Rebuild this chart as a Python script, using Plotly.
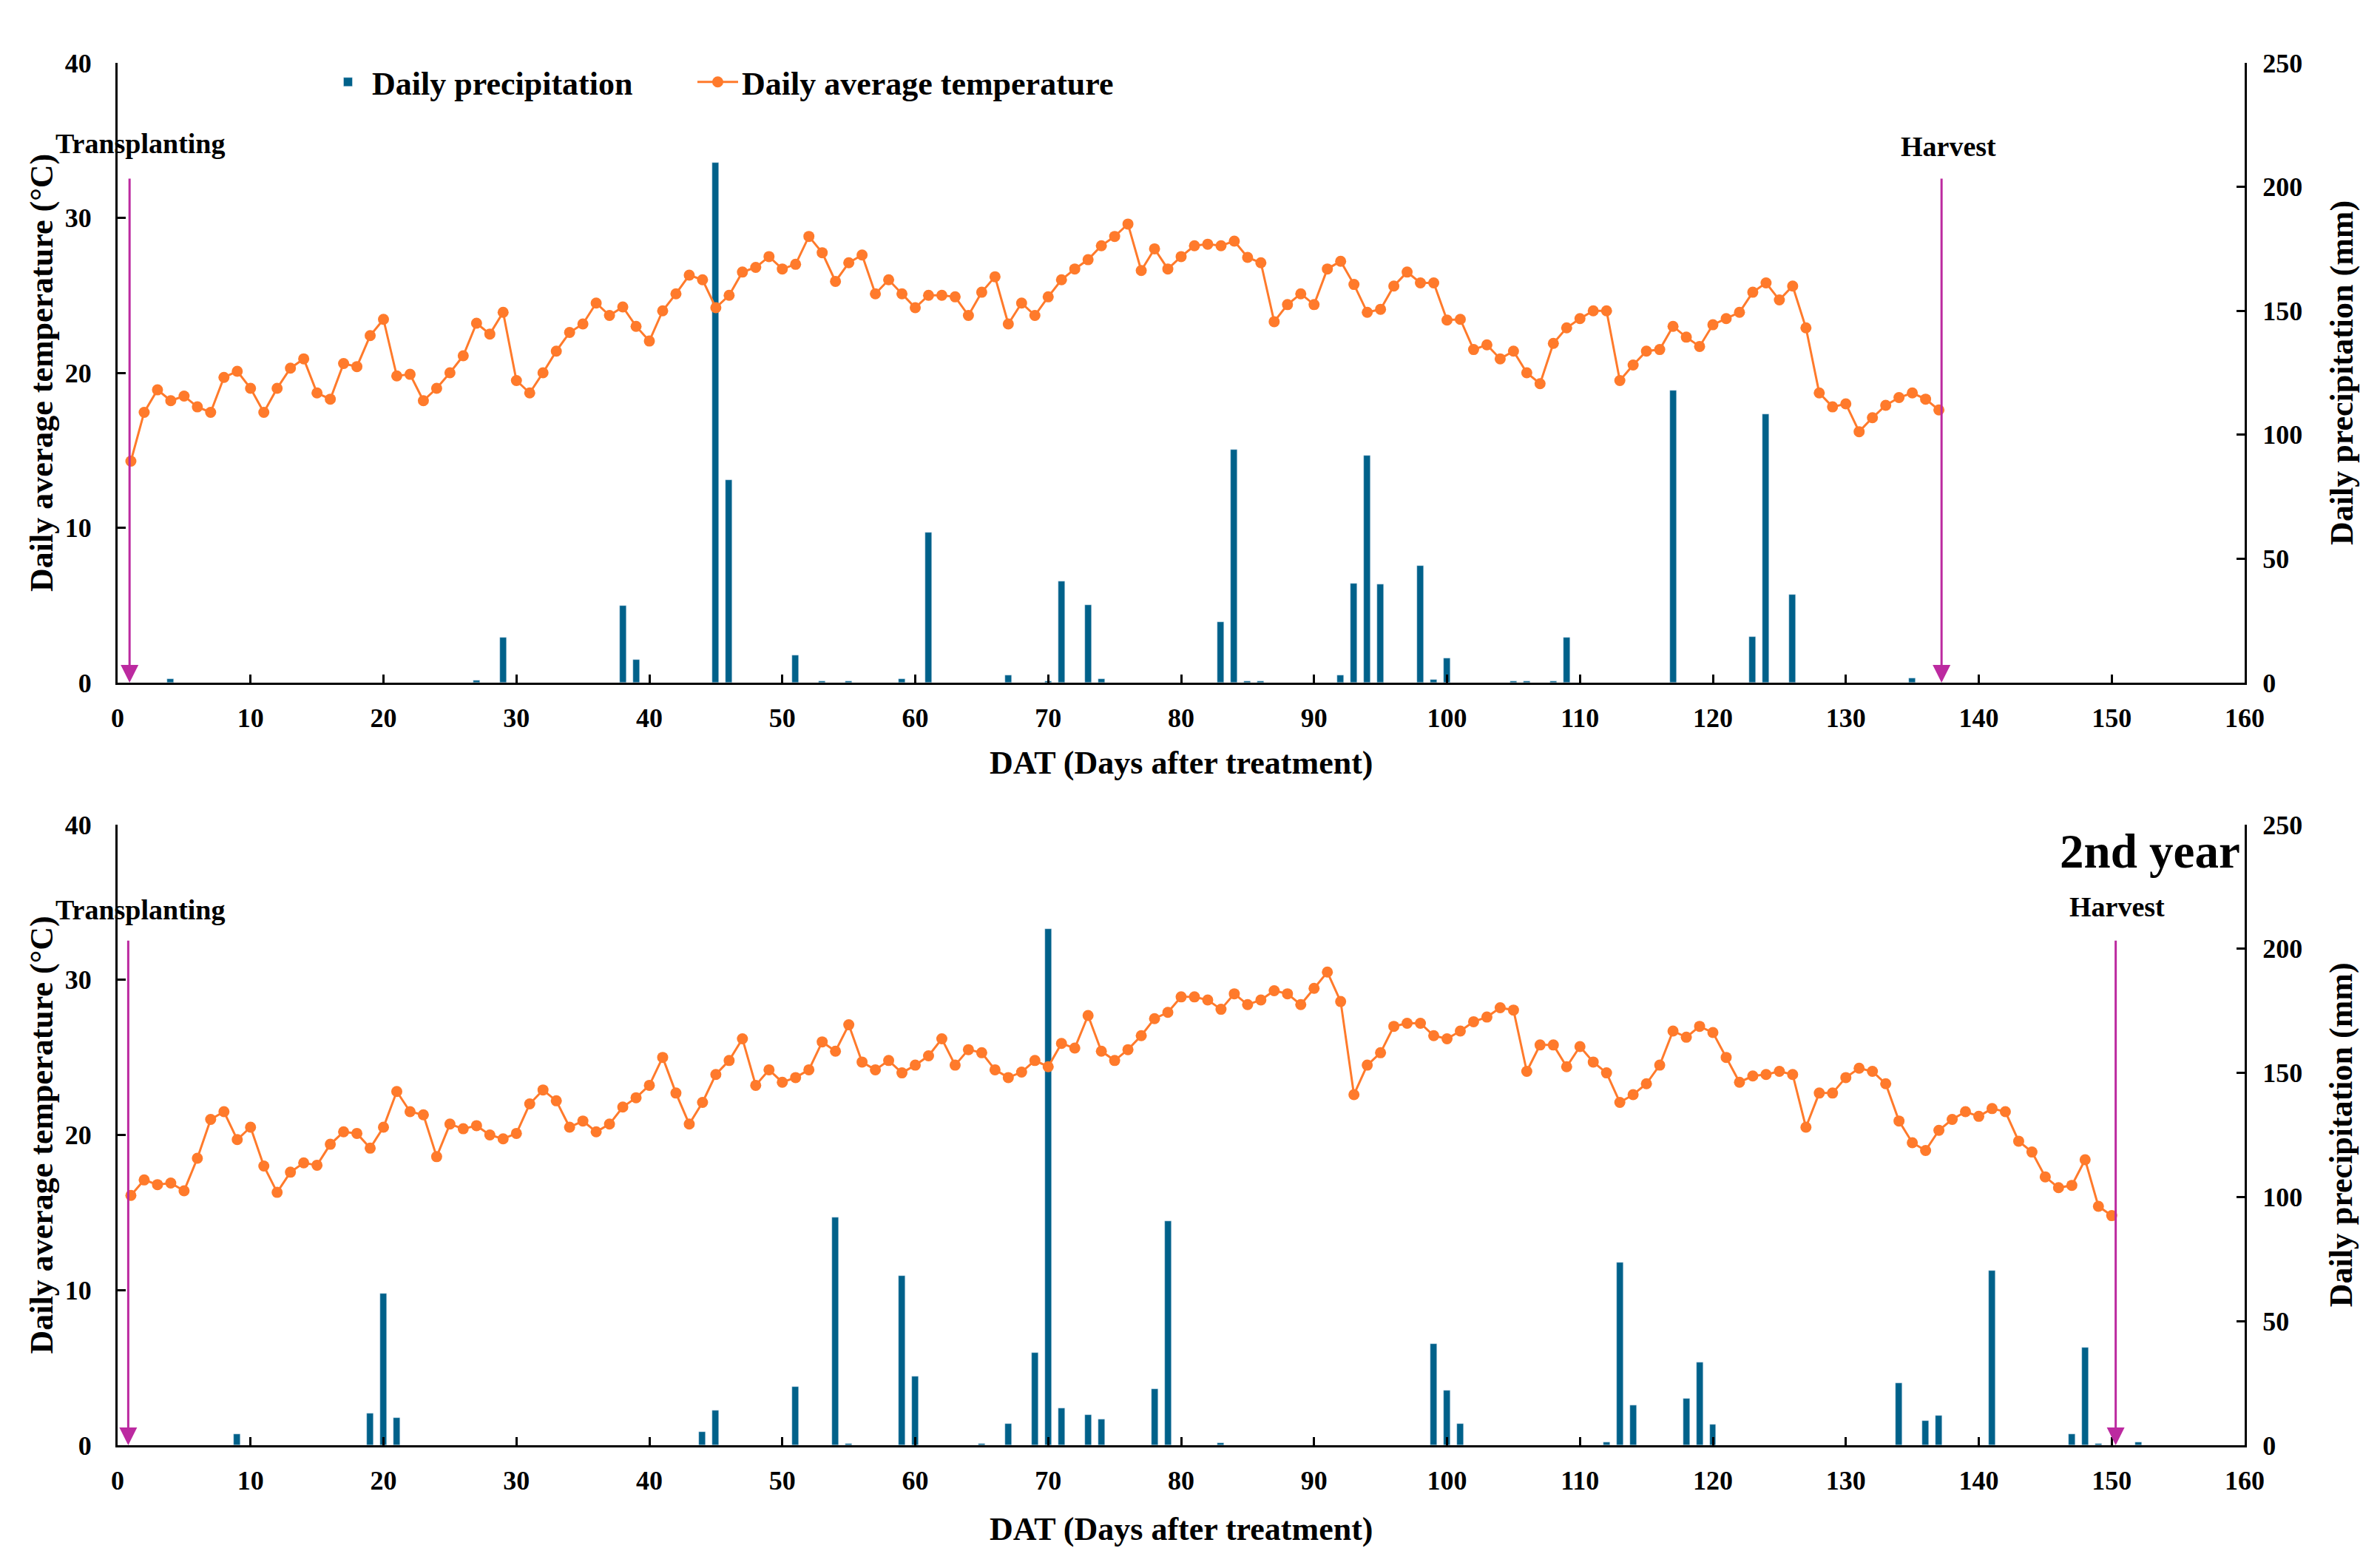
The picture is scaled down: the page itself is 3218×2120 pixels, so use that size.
import plotly.graph_objects as go

# ---- 1st year ----
temp1 = [14.3, 17.45, 18.9, 18.2, 18.5, 17.8, 17.45, 19.7, 20.1, 19.0,
         17.45, 19.0, 20.3, 20.9, 18.7, 18.3, 20.6, 20.4, 22.4, 23.45,
         19.8, 19.9, 18.2, 19.0, 20.0, 21.1, 23.2, 22.5, 23.9, 19.5,
         18.7, 20.0, 21.4, 22.6, 23.15, 24.5, 23.7, 24.25, 23.0, 22.05,
         24.0, 25.1, 26.3, 26.0, 24.2, 25.0, 26.5, 26.8, 27.5, 26.7,
         27.0, 28.8, 27.75, 25.9, 27.1, 27.6, 25.1, 26.0, 25.1, 24.2,
         25.0, 25.0, 24.9, 23.7, 25.2, 26.2, 23.15, 24.5, 23.7, 24.9,
         26.0, 26.7, 27.3, 28.2, 28.8, 29.6, 26.6, 28.0, 26.7, 27.5,
         28.2, 28.3, 28.2, 28.5, 27.45, 27.1, 23.3, 24.4, 25.1, 24.4,
         26.7, 27.2, 25.7, 23.9, 24.1, 25.6, 26.5, 25.8, 25.8, 23.4,
         23.45, 21.5, 21.8, 20.9, 21.4, 20.0, 19.3, 21.9, 22.9, 23.5,
         24.0, 24.0, 19.5, 20.5, 21.4, 21.5, 23.0, 22.3, 21.7, 23.1,
         23.5, 23.9, 25.2, 25.8, 24.7, 25.6, 22.9, 18.7, 17.8, 18.0,
         16.2, 17.1, 17.9, 18.4, 18.7, 18.3, 17.6]
days1 = list(range(1, len(temp1) + 1))

rain_days1 = [4, 27, 29, 38, 39, 45, 46, 51, 53, 55, 59, 61, 67, 70, 71, 73, 74,
              83, 84, 85, 86, 92, 93, 94, 95, 98, 99, 100, 105, 106, 108, 109,
              117, 123, 124, 126, 135]
rain1 = [1.5, 1.0, 18.2, 31.0, 9.2, 209.8, 81.7, 11.1, 0.7, 0.5, 1.5, 60.6, 2.9, 0.7, 40.9, 31.3, 1.4,
         24.5, 94.0, 0.7, 0.5, 2.9, 40.1, 91.6, 39.6, 47.3, 1.2, 9.9, 0.5, 0.5, 0.5, 18.1,
         117.9, 18.5, 108.3, 35.4, 1.7]

# ---- 2nd year ----
temp2 = [16.1, 17.1, 16.8, 16.9, 16.4, 18.5, 21.0, 21.5, 19.7, 20.5,
         18.0, 16.3, 17.6, 18.2, 18.05, 19.4, 20.2, 20.1, 19.15, 20.5,
         22.8, 21.5, 21.3, 18.6, 20.7, 20.4, 20.6, 20.0, 19.75, 20.1,
         22.0, 22.9, 22.2, 20.5, 20.9, 20.2, 20.7, 21.8, 22.4, 23.2,
         25.0, 22.7, 20.7, 22.1, 23.9, 24.8, 26.2, 23.2, 24.2, 23.4,
         23.7, 24.2, 26.0, 25.4, 27.1, 24.7, 24.2, 24.8, 24.0, 24.5,
         25.1, 26.2, 24.5, 25.5, 25.3, 24.2, 23.7, 24.05, 24.8, 24.4,
         25.9, 25.6, 27.7, 25.4, 24.8, 25.5, 26.4, 27.5, 27.9, 28.9,
         28.9, 28.7, 28.1, 29.1, 28.4, 28.7, 29.3, 29.1, 28.4, 29.45,
         30.5, 28.6, 22.6, 24.5, 25.3, 27.0, 27.2, 27.2, 26.4, 26.2,
         26.7, 27.3, 27.6, 28.2, 28.05, 24.1, 25.8, 25.8, 24.4, 25.7,
         24.7, 24.0, 22.1, 22.6, 23.3, 24.5, 26.7, 26.3, 27.0, 26.6,
         25.0, 23.4, 23.8, 23.9, 24.1, 23.9, 20.5, 22.7, 22.7, 23.7,
         24.3, 24.1, 23.3, 20.9, 19.5, 19.0, 20.3, 21.0, 21.5, 21.2,
         21.7, 21.5, 19.6, 18.9, 17.3, 16.6, 16.75, 18.4, 15.4, 14.8]
days2 = list(range(1, len(temp2) + 1))

rain_days2 = [9, 19, 20, 21, 44, 45, 51, 54, 55, 59, 60, 65, 67, 69, 70, 71, 73, 74,
              78, 79, 83, 99, 100, 101, 112, 113, 114, 118, 119, 120, 134, 136, 137,
              141, 147, 148, 149, 152]
rain2 = [4.5, 12.7, 61.1, 11.0, 5.3, 14.0, 23.6, 91.8, 0.5, 68.3, 27.7, 0.5, 8.6, 37.3, 207.9, 14.9, 12.2, 10.3,
         22.6, 90.4, 0.8, 40.8, 22.1, 8.6, 1.3, 73.7, 16.0, 18.7, 33.3, 8.2, 25.1, 9.9, 11.8,
         70.4, 4.4, 39.2, 0.5, 1.3]

FONT = "Liberation Serif"
BAR_COLOR = "#00618A"
LINE_COLOR = "#FF7A2B"
ARROW_COLOR = "#BC2AA0"

fig = go.Figure()

# top panel: bars on y (right), temperature on y2 (left, overlaying so the line sits on top)
fig.add_trace(go.Bar(x=rain_days1, y=rain1, width=0.5, marker_color=BAR_COLOR,
                     name="Daily precipitation", legendwidth=430, xaxis="x", yaxis="y"))
fig.add_trace(go.Scatter(x=days1, y=temp1, mode="lines+markers", name="Daily average temperature",
                         legendwidth=600,
                         line=dict(color=LINE_COLOR, width=3), marker=dict(size=15, color=LINE_COLOR),
                         xaxis="x", yaxis="y2"))
# bottom panel
fig.add_trace(go.Bar(x=rain_days2, y=rain2, width=0.5, marker_color=BAR_COLOR,
                     showlegend=False, xaxis="x2", yaxis="y3"))
fig.add_trace(go.Scatter(x=days2, y=temp2, mode="lines+markers", showlegend=False,
                         line=dict(color=LINE_COLOR, width=3), marker=dict(size=15, color=LINE_COLOR),
                         xaxis="x2", yaxis="y4"))

tickfont = dict(family=FONT, size=36, color="black", weight="bold")
common = dict(showline=True, linecolor="black", linewidth=3, ticks="inside", ticklen=11,
              tickwidth=3, tickcolor="black", showgrid=False, zeroline=False, tickfont=tickfont)

fig.update_layout(
    width=3218, height=2120,
    margin=dict(l=151, r=191, t=77, b=174),
    plot_bgcolor="white", paper_bgcolor="white",
    bargap=0,
    xaxis=dict(domain=[0, 1], anchor="y", range=[0, 160], dtick=10, ticklabelstandoff=14, **common),
    yaxis=dict(domain=[0.5516, 1], anchor="x", side="right", range=[0, 250], dtick=50,
               ticklabelstandoff=14, **common),
    yaxis2=dict(overlaying="y", anchor="x", side="left", range=[0, 40], dtick=10,
                ticklabelstandoff=25, **common),
    xaxis2=dict(domain=[0, 1], anchor="y3", range=[0, 160], dtick=10, ticklabelstandoff=14, **common),
    yaxis3=dict(domain=[0, 0.4489], anchor="x2", side="right", range=[0, 250], dtick=50,
                ticklabelstandoff=14, **common),
    yaxis4=dict(overlaying="y3", anchor="x2", side="left", range=[0, 40], dtick=10,
                ticklabelstandoff=25, **common),
    legend=dict(orientation="h", x=0.097, y=0.986, xanchor="left", yanchor="middle",
                font=dict(family=FONT, size=44, color="black", weight="bold"),
                itemwidth=55, bgcolor="rgba(0,0,0,0)"),
)

title_font = dict(family=FONT, size=44, color="black", weight="bold")
label_font = dict(family=FONT, size=38, color="black", weight="bold")
annotations = []
for xa, ya_l, ya_r, xt_y in [("x", "y2", "y", -0.129), ("x2", "y4", "y3", -0.135)]:
    annotations += [
        dict(text="Daily average temperature (\u00b0C)", textangle=-90, xref=xa + " domain", yref=ya_l + " domain",
             x=-0.0358, y=0.5, xanchor="center", yanchor="middle", showarrow=False, font=title_font),
        dict(text="Daily precipitation (mm)", textangle=-90, xref=xa + " domain", yref=ya_r + " domain",
             x=1.0455, y=0.5, xanchor="center", yanchor="middle", showarrow=False, font=title_font),
        dict(text="DAT (Days after treatment)", xref=xa + " domain", yref=ya_l + " domain",
             x=0.5, y=xt_y, xanchor="center", yanchor="middle", showarrow=False, font=title_font),
    ]

# event markers: (x axis, y axis, day, label x, label y, text)
events = [("x", "y2", 0.9, 1.7, 34.8, "Transplanting"),
          ("x", "y2", 137.2, 137.7, 34.6, "Harvest"),
          ("x2", "y4", 0.8, 1.7, 34.5, "Transplanting"),
          ("x2", "y4", 150.3, 150.4, 34.7, "Harvest")]
for xa, ya, day, lx, ly, txt in events:
    annotations.append(dict(x=day, y=0, ax=day, ay=32.6, xref=xa, yref=ya, axref=xa, ayref=ya,
                            text="", showarrow=True, arrowhead=2, arrowsize=1.6, arrowwidth=3,
                            arrowcolor=ARROW_COLOR, standoff=0))
    annotations.append(dict(x=lx, y=ly, xref=xa, yref=ya, text=txt, showarrow=False,
                            xanchor="center", yanchor="middle", font=label_font))

annotations.append(dict(x=159.8, y=38.3, xref="x2", yref="y4", xanchor="right", yanchor="middle",
                        text="2nd year", showarrow=False,
                        font=dict(family=FONT, size=65, color="black", weight="bold")))
fig.update_layout(annotations=annotations)

fig.write_html("out.html")
